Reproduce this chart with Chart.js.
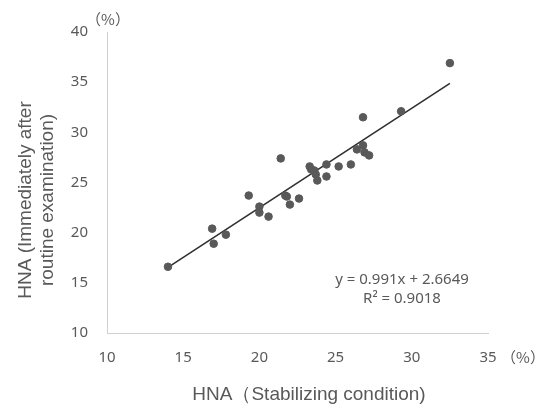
<!DOCTYPE html>
<html>
<head>
<meta charset="utf-8">
<style>
  body { margin: 0; background: #fff; }
  #wrap { width: 542px; height: 411px; }
</style>
<script src="https://cdn.jsdelivr.net/npm/chart.js@4/dist/chart.umd.min.js"></script>
</head>
<body>
<div id="wrap"><canvas id="c" width="542" height="411"></canvas></div>
<script>
// HNA values: stabilizing condition (x) vs immediately after routine examination (y)
const hnaStable = [14.0, 16.9, 17.0, 17.8, 19.3, 20.0, 20.0, 20.6, 21.4, 21.7, 21.8, 22.0, 22.6,
  23.3, 23.4, 23.6, 23.7, 23.8, 24.4, 24.4, 25.2, 26.0, 26.4, 26.8, 26.8, 26.9, 27.2, 29.3, 32.5];
const hnaRoutine = [16.6, 20.4, 18.9, 19.8, 23.7, 22.6, 22.0, 21.6, 27.4, 23.7, 23.6, 22.8, 23.4,
  26.6, 26.3, 26.2, 25.8, 25.2, 26.8, 25.6, 26.6, 26.8, 28.3, 31.5, 28.7, 28.0, 27.7, 32.1, 36.9];
const xTicks = [10, 15, 20, 25, 30, 35];
const yTicks = [10, 15, 20, 25, 30, 35, 40];
const slope = 0.991;
const intercept = 2.6649;
const rSquared = 0.9018;

const points = hnaStable.map((x, i) => ({ x: x, y: hnaRoutine[i] }));
const xMin = Math.min(...hnaStable);
const xMax = Math.max(...hnaStable);
const trend = [
  { x: xMin, y: slope * xMin + intercept },
  { x: xMax, y: slope * xMax + intercept }
];

const grey = '#595959';
const tickFont = { family: 'Noto Sans', size: 15 };

// text that is not part of the scales: titles, units, equation
const labelsPlugin = {
  id: 'labels',
  afterDraw(chart) {
    const ctx = chart.ctx;
    ctx.save();
    ctx.fillStyle = grey;
    ctx.textAlign = 'center';
    ctx.textBaseline = 'middle';
    ctx.font = '15px "Noto Sans"';
    ctx.fillText('y = ' + slope + 'x + ' + intercept, 402, 280);
    ctx.fillText('R² = ' + rSquared, 402, 299);
    ctx.font = '15px "Noto Sans CJK JP"';
    ctx.fillText('（%）', 108, 19);
    ctx.fillText('（%）', 523, 357);
    ctx.font = '19px "Liberation Sans"';
    ctx.fillText('HNA（Stabilizing condition)', 309, 395);
    ctx.translate(37, 200);
    ctx.rotate(-Math.PI / 2);
    ctx.fillText('HNA (Immediately after', 0, -11);
    ctx.fillText('routine examination)', 0, 11);
    ctx.restore();
  }
};

new Chart(document.getElementById('c'), {
  type: 'scatter',
  data: {
    datasets: [
      {
        data: points,
        backgroundColor: grey,
        borderColor: grey,
        pointRadius: 3.8,
        pointHoverRadius: 3.8
      },
      {
        type: 'line',
        data: trend,
        borderColor: '#303030',
        borderWidth: 1.6,
        pointRadius: 0,
        fill: false
      }
    ]
  },
  options: {
    responsive: false,
    animation: false,
    layout: { padding: { top: 32, right: 54, left: 0, bottom: 0 } },
    plugins: { legend: { display: false }, tooltip: { enabled: false } },
    scales: {
      x: {
        type: 'linear',
        min: 10,
        max: 35,
        afterBuildTicks: s => { s.ticks = xTicks.map(v => ({ value: v })); },
        afterFit: s => { s.height = 78; },
        grid: { display: false, drawTicks: false },
        border: { color: '#d0d0d0', width: 1 },
        ticks: { color: grey, font: tickFont, padding: 16 }
      },
      y: {
        type: 'linear',
        min: 10,
        max: 40,
        afterBuildTicks: s => { s.ticks = yTicks.map(v => ({ value: v })); },
        afterFit: s => { s.width = 107; },
        grid: { display: false, drawTicks: false },
        border: { color: '#d0d0d0', width: 1 },
        ticks: { color: grey, font: tickFont, padding: 19 }
      }
    }
  },
  plugins: [labelsPlugin]
});
</script>
</body>
</html>
